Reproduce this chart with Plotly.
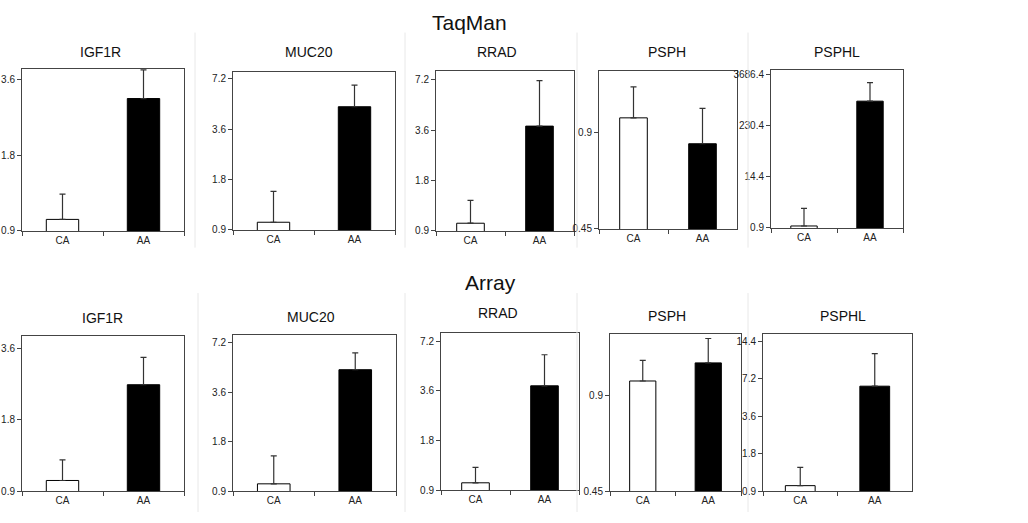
import numpy as np
import plotly.graph_objects as go

W, H = 1028, 523

genes = ["IGF1R", "MUC20", "RRAD", "PSPH", "PSPHL"]
groups = ["CA", "AA"]

# fold change (bar) and top of error bar
taqman_mean = [[1.0, 3.03], [1.0, 4.9], [1.0, 3.8], [1.0, 0.83], [1.0, 885.0]]
taqman_upper = [[1.26, 3.94], [1.53, 6.6], [1.37, 7.1], [1.25, 1.07], [2.6, 2416.0]]
array_mean = [[1.0, 2.53], [1.0, 4.95], [1.0, 3.86], [1.0, 1.14], [1.0, 6.3]]
array_upper = [[1.22, 3.3], [1.48, 6.27], [1.24, 5.95], [1.16, 1.36], [1.4, 11.5]]

# y ticks of each panel (log axes)
taqman_ticks = [[0.9, 1.8, 3.6], [0.9, 1.8, 3.6, 7.2], [0.9, 1.8, 3.6, 7.2],
                [0.45, 0.9], [0.9, 14.4, 230.4, 3686.4]]
array_ticks = [[0.9, 1.8, 3.6], [0.9, 1.8, 3.6, 7.2], [0.9, 1.8, 3.6, 7.2],
               [0.45, 0.9], [0.9, 1.8, 3.6, 7.2, 14.4]]
taqman_top = [3.97, 7.9, 8.1, 1.4, 4800.0]
array_top = [4.04, 8.0, 8.0, 1.4, 16.4]

# plot boxes in pixels: x0, x1, ytop, ybottom
taqman_boxes = [(22, 184, 69, 233), (233, 395, 72, 232), (436, 574, 71, 233),
                (599, 737, 71, 231), (771, 903, 70, 230)]
array_boxes = [(22, 184, 340, 497), (233, 396, 339, 497), (441, 579, 337, 496),
               (610, 741, 338, 497), (763, 912, 338, 497)]
taqman_title_pos = [(100, 52), (309, 52), (497, 52), (667, 52), (837, 52)]
array_title_pos = [(102, 321), (311, 320), (498, 316), (667, 319), (843, 319)]


def px(x):
    return x / W


def py(y):
    return 1 - y / H


fig = go.Figure()
font = "Liberation Sans, Arial, sans-serif"
annotations = []
shapes = []

panels = []
for i in range(5):
    panels.append((taqman_mean[i], taqman_upper[i], taqman_ticks[i], taqman_top[i],
                   taqman_boxes[i], taqman_title_pos[i], genes[i]))
for i in range(5):
    panels.append((array_mean[i], array_upper[i], array_ticks[i], array_top[i],
                   array_boxes[i], array_title_pos[i], genes[i]))

layout_axes = {}
for k, (mean, upper, ticks, top, box, tpos, gene) in enumerate(panels):
    n = k + 1
    xa = "x" if n == 1 else "x%d" % n
    ya = "y" if n == 1 else "y%d" % n
    err = [u - m for u, m in zip(upper, mean)]
    fig.add_trace(go.Bar(
        x=groups, y=mean, xaxis=xa, yaxis=ya, width=0.4,
        marker=dict(color=["white", "black"], line=dict(color="black", width=1)),
        error_y=dict(type="data", symmetric=False, array=err, arrayminus=[0, 0],
                     color="#333333", thickness=1.2, width=3),
        showlegend=False,
    ))
    x0, x1, yt, yb = box
    xkey = "xaxis" if n == 1 else "xaxis%d" % n
    ykey = "yaxis" if n == 1 else "yaxis%d" % n
    layout_axes[xkey] = dict(
        domain=[px(x0), px(x1)], anchor=ya, type="category",
        showline=True, linecolor="#444444", linewidth=1, mirror=True,
        ticks="outside", tickson="boundaries", ticklen=4, tickcolor="#444444",
        showgrid=False, tickfont=dict(family=font, size=10, color="#222222"),
        fixedrange=True,
    )
    layout_axes[ykey] = dict(
        domain=[py(yb), py(yt)], anchor=xa, type="log",
        range=[np.log10(ticks[0]), np.log10(top)],
        tickvals=ticks, ticktext=[("%g" % t) for t in ticks],
        showline=True, linecolor="#444444", linewidth=1, mirror=True,
        ticks="outside", ticklen=4, tickcolor="#444444", showgrid=False,
        zeroline=False, tickfont=dict(family=font, size=10, color="#222222"),
        fixedrange=True,
    )
    annotations.append(dict(text=gene, x=px(tpos[0]), y=py(tpos[1]),
                            xref="paper", yref="paper", showarrow=False,
                            xanchor="center", yanchor="middle",
                            font=dict(family=font, size=14, color="#111111")))

annotations.append(dict(text="TaqMan", x=px(469), y=py(22), xref="paper",
                        yref="paper", showarrow=False, xanchor="center",
                        yanchor="middle",
                        font=dict(family=font, size=21, color="#111111")))
annotations.append(dict(text="Array", x=px(490), y=py(285), xref="paper",
                        yref="paper", showarrow=False, xanchor="center",
                        yanchor="middle",
                        font=dict(family=font, size=21, color="#111111")))

# faint panel separators
for xs in [195, 405, 577, 748]:
    shapes.append(dict(type="line", xref="paper", yref="paper", x0=px(xs), x1=px(xs),
                       y0=py(32), y1=py(250),
                       line=dict(color="#e8e8e8", width=1)))
for xs in [198, 405, 577, 748]:
    shapes.append(dict(type="line", xref="paper", yref="paper", x0=px(xs), x1=px(xs),
                       y0=py(296), y1=py(518),
                       line=dict(color="#e8e8e8", width=1)))

fig.update_layout(
    width=W, height=H, margin=dict(l=0, r=0, t=0, b=0),
    paper_bgcolor="white", plot_bgcolor="white",
    annotations=annotations, shapes=shapes,
    **layout_axes,
)

# drop the default body margin so the figure sits at the window corner
fig.write_html("out.html", config={"displayModeBar": False},
               post_script="document.body.style.margin='0px';"
                           "document.body.style.overflow='hidden';")
